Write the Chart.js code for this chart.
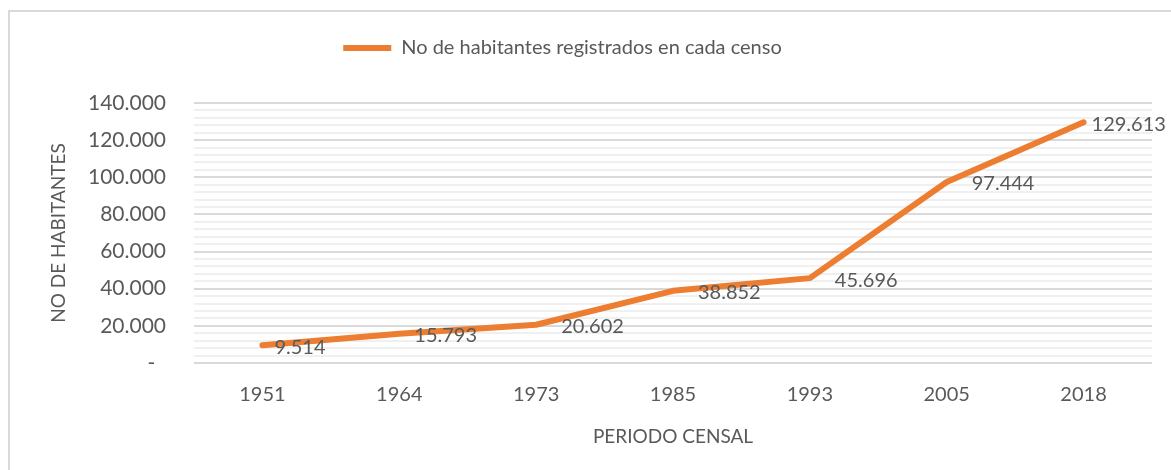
<!DOCTYPE html>
<html>
<head>
<meta charset="utf-8">
<script src="https://cdn.jsdelivr.net/npm/chart.js@4.4.1/dist/chart.umd.min.js"></script>
<style>
  html, body { margin: 0; padding: 0; background: #ffffff; overflow: hidden; }
  #wrap { position: absolute; left: 8px; top: 10px; width: 1163px; height: 470px; border: 2px solid #d9d9d9; border-right: none; box-sizing: border-box; }
  #wrap canvas { display: block; }
</style>
</head>
<body>
<div id="wrap"><canvas id="c" width="1161" height="466"></canvas></div>
<script>
const categories = ['1951', '1964', '1973', '1985', '1993', '2005', '2018'];
const habitantes = [9514, 15793, 20602, 38852, 45696, 97444, 129613];
const seriesName = 'No de habitantes registrados en cada censo';
const yAxisTitle = 'NO DE HABITANTES';
const xAxisTitle = 'PERIODO CENSAL';

const FONT = 'Lato, "Liberation Sans", sans-serif';
const TEXT = '#595959';
const ORANGE = '#ED7D31';
const labelDx = [12, 15, 25, 25, 25, 25, 8];

function fmt(v) {
  if (v === 0) return '-  ';
  return Math.round(v).toString().replace(/\B(?=(\d{3})+(?!\d))/g, '.');
}

const dataLabels = {
  id: 'dataLabels',
  afterDatasetsDraw(chart) {
    const ctx = chart.ctx;
    const meta = chart.getDatasetMeta(0);
    ctx.save();
    ctx.font = '20px ' + FONT;
    ctx.fillStyle = TEXT;
    ctx.textAlign = 'left';
    ctx.textBaseline = 'middle';
    meta.data.forEach((pt, i) => {
      ctx.fillText(fmt(habitantes[i]), pt.x + labelDx[i], pt.y + 2);
    });
    ctx.restore();
  }
};

const legendTweak = {
  id: 'legendTweak',
  beforeInit(chart) {
    const lg = chart.legend;
    const fit = lg.fit;
    lg.fit = function () { fit.call(this); this.height += 35; };
  },
  afterLayout(chart) {
    chart.legend.left -= 37;
    chart.legend.right -= 37;
  }
};

new Chart(document.getElementById('c'), {
  type: 'line',
  data: {
    labels: categories,
    datasets: [{
      label: seriesName,
      data: habitantes,
      borderColor: ORANGE,
      backgroundColor: ORANGE,
      borderWidth: 6,
      borderCapStyle: 'round',
      borderJoinStyle: 'round',
      pointRadius: 0,
      tension: 0,
      fill: false
    }]
  },
  options: {
    responsive: false,
    animation: false,
    layout: { padding: { left: 37, right: 19, top: 16, bottom: 32 } },
    plugins: {
      legend: {
        position: 'top',
        labels: {
          usePointStyle: true,
          pointStyle: 'line',
          pointStyleWidth: 48,
          color: TEXT,
          font: { family: FONT, size: 20 },
          padding: 10
        }
      },
      tooltip: { enabled: false }
    },
    scales: {
      x: {
        offset: true,
        grid: { display: false, drawTicks: false },
        border: { display: false },
        ticks: { color: TEXT, font: { family: FONT, size: 20, lineHeight: 1 }, padding: 22 },
        title: { display: true, text: xAxisTitle, color: TEXT, font: { family: FONT, size: 19, lineHeight: 1 }, padding: { top: 0, bottom: 0 } }
      },
      y: {
        min: 0,
        max: 140000,
        afterFit(scale) { scale.width = 147; },
        grid: {
          drawTicks: false,
          color: (c) => (c.tick && c.tick.value % 20000 === 0) ? '#d9d9d9' : '#f0f0f0',
          lineWidth: 2
        },
        border: { display: false },
        ticks: {
          stepSize: 4000,
          autoSkip: false,
          color: TEXT,
          font: { family: FONT, size: 21 },
          padding: 28,
          callback: (v) => (v % 20000 === 0) ? fmt(v) : ''
        },
        title: { display: true, text: yAxisTitle, color: TEXT, font: { family: FONT, size: 19 }, padding: 0 }
      }
    }
  },
  plugins: [dataLabels, legendTweak]
});
</script>
</body>
</html>
